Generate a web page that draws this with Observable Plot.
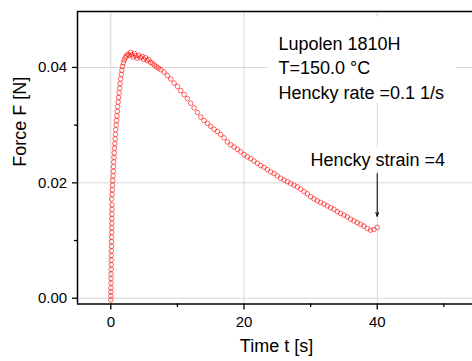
<!DOCTYPE html>
<html>
<head>
<meta charset="utf-8">
<script src="https://cdn.jsdelivr.net/npm/d3@7"></script>
<script src="https://cdn.jsdelivr.net/npm/@observablehq/plot@0.6"></script>
<style>
  html, body { margin: 0; padding: 0; background: #ffffff; }
  #chart svg { display: block; }
</style>
</head>
<body>
<div id="chart"></div>
<script>
// Time t [s]
const time = [
  0.00, 0.00, 0.01, 0.02, 0.03, 0.03, 0.04, 0.05, 0.06, 0.06,
  0.07, 0.09, 0.10, 0.11, 0.12, 0.13, 0.14, 0.15, 0.16, 0.16,
  0.17, 0.18, 0.12, 0.20, 0.23, 0.26, 0.30,
  0.34, 0.37, 0.40, 0.44, 0.48, 0.52, 0.56, 0.60, 0.65, 0.70,
  0.75, 0.80, 0.86, 0.92, 0.97, 1.03, 1.10, 1.17, 1.24, 1.32,
  1.40, 1.48, 1.57, 1.66, 1.76, 1.88, 2.02, 2.18, 2.35, 2.55,
  2.75, 2.95, 3.15, 3.35, 3.55, 3.75, 3.95, 4.20, 4.45, 4.70,
  4.95, 5.20, 5.45, 5.70, 5.95, 6.25, 6.55, 6.85, 7.15, 7.50,
  8.0, 8.5, 9.0, 9.5, 10.0, 10.5, 11.0, 11.5, 12.0, 12.5,
  13.0, 13.5, 14.0, 14.5, 15.0, 15.5, 16.0, 16.5, 17.0, 17.5,
  18.0, 18.5, 19.0, 19.5, 20.0, 20.5, 21.0, 21.5, 22.0, 22.5,
  23.0, 23.5, 24.0, 24.5, 25.0, 25.5, 26.0, 26.5, 27.0, 27.5,
  28.0, 28.5, 29.0, 29.5, 30.0, 30.5, 31.0, 31.5, 32.0, 32.5,
  33.0, 33.5, 34.0, 34.5, 35.0, 35.5, 36.0, 36.5, 37.0, 37.5,
  38.0, 38.5, 39.0, 39.5, 40.0
];
// Force F [N]
const force = [
  -0.0003, 0.0004, 0.0011, 0.0018, 0.0026, 0.0034, 0.0042, 0.0050, 0.0058, 0.0066,
  0.0074, 0.0082, 0.0090, 0.0098, 0.0106, 0.0114, 0.0122, 0.0130, 0.0138, 0.0146,
  0.0154, 0.0162, 0.0172, 0.0180, 0.0188, 0.0196, 0.0204,
  0.0212, 0.0220, 0.0228, 0.0236, 0.0244, 0.0252, 0.0260, 0.0268, 0.0276, 0.0284,
  0.0292, 0.0300, 0.0308, 0.0316, 0.0324, 0.0332, 0.0340, 0.0348, 0.0356, 0.0364,
  0.0372, 0.0380, 0.0388, 0.0395, 0.0402, 0.0408, 0.0413, 0.0417, 0.0420, 0.0423,
  0.0421, 0.0426, 0.0422, 0.0418, 0.0424, 0.0420, 0.0416, 0.0421, 0.0417, 0.0419,
  0.0414, 0.0417, 0.0412, 0.0414, 0.0409, 0.0407, 0.0404, 0.0401, 0.0399, 0.0396,
  0.0392, 0.0386, 0.0380, 0.0373, 0.0367, 0.0360, 0.0353, 0.0346, 0.0338, 0.0330,
  0.0322, 0.0314, 0.0308, 0.0303, 0.0298, 0.0293, 0.0289, 0.0284, 0.0278, 0.0271,
  0.0266, 0.0262, 0.0258, 0.0254, 0.0249, 0.0245, 0.0242, 0.0238, 0.0234, 0.0230,
  0.0227, 0.0223, 0.0219, 0.0216, 0.0212, 0.0208, 0.0205, 0.0202, 0.0199, 0.0196,
  0.0193, 0.0189, 0.0185, 0.0181, 0.0176, 0.0172, 0.0169, 0.0166, 0.0163, 0.0160,
  0.0157, 0.0154, 0.0150, 0.0147, 0.0144, 0.0141, 0.0137, 0.0134, 0.0131, 0.0128,
  0.0125, 0.0121, 0.0118, 0.0119, 0.0123
];

const xTicks = [0, 20, 40];
const xMinorTicks = [10, 30, 50];
const yTicks = [0, 0.02, 0.04];
const yMinorTicks = [0.01, 0.03];
const xLabel = "Time t [s]";
const yLabel = "Force F [N]";
const infoLines = ["Lupolen 1810H", "T=150.0 °C", "Hencky rate =0.1 1/s"];
const arrowLabel = "Hencky strain =4";
// annotation boxes / arrow (data units)
const infoBox = {x1: 23.6, x2: 51.9, y1: 0.0338, y2: 0.0487};
const strainBox = {x1: 29.2, x2: 51.7, y1: 0.0221, y2: 0.0261};
const arrowSpec = {x: 40, y1: 0.0216, y2: 0.0142};

const data = time.map((t, i) => ({t, f: force[i]}));
const xDomain = [-5, 54.3];
const yDomain = [-0.001, 0.0497];
const font = "'Liberation Sans', Arial, Helvetica, sans-serif";

const chart = Plot.plot({
  width: 472,
  height: 361,
  marginLeft: 77,
  marginRight: 0,
  marginTop: 11,
  marginBottom: 57.5,
  style: {fontFamily: font, fontSize: "15px", color: "#000", background: "#fff", overflow: "visible"},
  x: {domain: xDomain},
  y: {domain: yDomain},
  marks: [
    Plot.gridX(xTicks, {stroke: "#d8d8d8", strokeOpacity: 1, strokeWidth: 1}),
    Plot.gridY(yTicks, {stroke: "#d8d8d8", strokeOpacity: 1, strokeWidth: 1}),
    Plot.rect([infoBox, strainBox], {x1: "x1", x2: "x2", y1: "y1", y2: "y2", fill: "#fff"}),
    Plot.axisX(xTicks, {tickSize: 6, tickPadding: 6.5, fontSize: 15, label: null, stroke: "#000", strokeWidth: 1.3}),
    Plot.axisX(xMinorTicks, {tickSize: 3.5, tickFormat: () => "", label: null, stroke: "#000", strokeWidth: 1.3}),
    Plot.axisY(yTicks, {tickSize: 5, tickPadding: 5.3, fontSize: 15, tickFormat: d3.format(".2f"), label: null, stroke: "#000", strokeWidth: 1.3}),
    Plot.axisY(yMinorTicks, {tickSize: 3, tickFormat: () => "", label: null, stroke: "#000", strokeWidth: 1.3}),
    Plot.ruleX([xDomain[0]], {stroke: "#000", strokeWidth: 1.5}),
    Plot.ruleY([yDomain[0]], {stroke: "#000", strokeWidth: 1.5}),
    Plot.ruleY([yDomain[1]], {stroke: "#000", strokeWidth: 1.5}),
    Plot.dot(data, {x: "t", y: "f", r: 2.3, stroke: "#ff0000", strokeOpacity: 0.75, strokeWidth: 0.8, fill: "none"}),
    Plot.text([xLabel], {frameAnchor: "bottom", dx: 1.5, dy: 47.5, fontSize: 18, fill: "#000"}),
    Plot.text([yLabel], {frameAnchor: "left", rotate: -90, dx: -57, dy: 9, fontSize: 18, fill: "#000"}),
    Plot.text([infoLines.join("\n")], {frameAnchor: "top-left", textAnchor: "start", lineAnchor: "top", lineHeight: 1.36, dx: 201, dy: 21, fontSize: 18, fill: "#000"}),
    Plot.text([arrowLabel], {frameAnchor: "top-left", textAnchor: "start", lineAnchor: "top", dx: 233, dy: 141.7, fontSize: 18, fill: "#000"}),
    Plot.arrow([arrowSpec], {x: "x", y1: "y1", y2: "y2", stroke: "#000", strokeWidth: 1, headLength: 6, headAngle: 40})
  ]
});
document.getElementById("chart").appendChild(chart);
</script>
</body>
</html>
